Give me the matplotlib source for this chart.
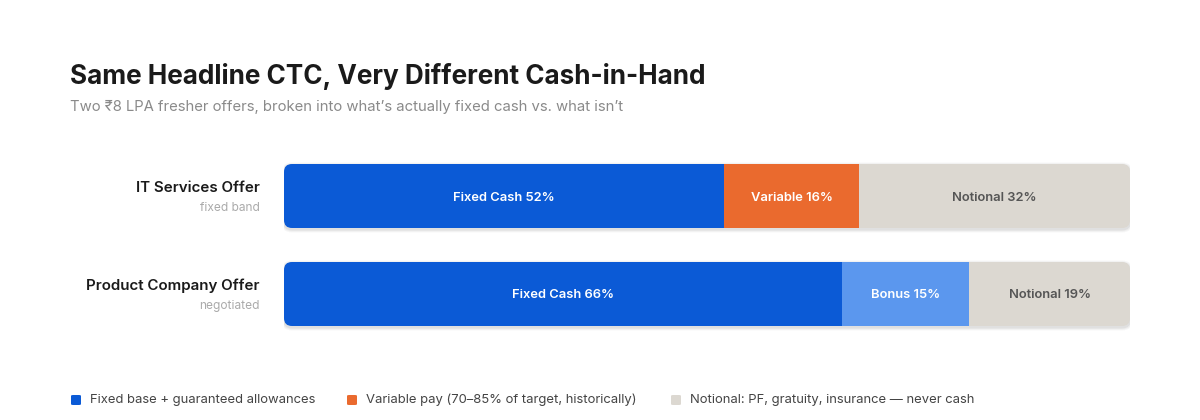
import matplotlib
matplotlib.use("Agg")
import matplotlib.pyplot as plt
from matplotlib.patches import FancyBboxPatch

plt.rcParams['font.family'] = ['Inter', 'DejaVu Sans']

# ---- data ----
offers = ["IT Services Offer", "Product Company Offer"]
offer_notes = ["fixed band", "negotiated"]
seg_names = [["Fixed Cash", "Variable", "Notional"],
             ["Fixed Cash", "Bonus", "Notional"]]
seg_values = [[52, 16, 32],
              [66, 15, 19]]
seg_colors = [["#0b5ad6", "#ea6a2e", "#dcd8d1"],
              ["#0b5ad6", "#5b97ee", "#dcd8d1"]]
seg_text_colors = [["white", "white", "#555555"],
                   ["white", "white", "#555555"]]
legend_labels = ["Fixed base + guaranteed allowances",
                 "Variable pay (70\u201385% of target, historically)",
                 "Notional: PF, gratuity, insurance \u2014 never cash"]
legend_colors = ["#0b5ad6", "#ea6a2e", "#dcd8d1"]

title = "Same Headline CTC, Very Different Cash-in-Hand"
subtitle = "Two \u20b98 LPA fresher offers, broken into what\u2019s actually fixed cash vs. what isn\u2019t"

W, H = 1200, 420
fig = plt.figure(figsize=(W / 100, H / 100), dpi=100)
fig.patch.set_facecolor("white")

def fx(x):
    return x / W

def fy(y):
    return 1 - y / H

# axes: x 0..100 -> px 284..1130 ; rows centered at 196 and 294
ax_left, ax_right = 284, 1130
ax_top, ax_bot = 150, 340
ax = fig.add_axes([fx(ax_left), fy(ax_bot), (ax_right - ax_left) / W, (ax_bot - ax_top) / H])
ax.set_xlim(0, 100)
row_px = 98.0
ax.set_ylim(1 + 46 / row_px, -46 / row_px)
ax.axis("off")

bar_h = 64 / row_px
x_per_px = 100 / (ax_right - ax_left)
y_per_px = 1 / row_px
radius_px = 8

for i, (names, vals, cols, tcols) in enumerate(zip(seg_names, seg_values, seg_colors, seg_text_colors)):
    total = sum(vals)
    # soft shadow
    for k, a in [(3, 0.03), (2, 0.04), (1, 0.05)]:
        sh = FancyBboxPatch((-k * x_per_px, i - bar_h / 2 - k * y_per_px + 1.5 * y_per_px),
                            total + 2 * k * x_per_px, bar_h + 2 * k * y_per_px,
                            boxstyle=f"round,pad=0,rounding_size={(radius_px + k) * x_per_px}",
                            mutation_aspect=y_per_px / x_per_px,
                            facecolor="black", edgecolor="none", alpha=a, zorder=1)
        ax.add_patch(sh)
    clip = FancyBboxPatch((0, i - bar_h / 2), total, bar_h,
                          boxstyle=f"round,pad=0,rounding_size={radius_px * x_per_px}",
                          mutation_aspect=y_per_px / x_per_px,
                          facecolor="none", edgecolor="none", transform=ax.transData)
    ax.add_patch(clip)
    left = 0
    for name, v, c, tc in zip(names, vals, cols, tcols):
        bars = ax.barh(i, v, left=left, height=bar_h, color=c, edgecolor="none", zorder=2)
        for b in bars:
            b.set_clip_path(clip)
        ax.text(left + v / 2, i + 1.5 * y_per_px, f"{name} {v}%", ha="center", va="center",
                color=tc, fontsize=9.3, fontweight="semibold", zorder=3)
        left += v

# row labels
for i, (lab, note) in enumerate(zip(offers, offer_notes)):
    yc = 196 + i * 98
    fig.text(fx(260), fy(yc - 8), lab, ha="right", va="center",
             fontsize=10.9, fontweight="semibold", color="#1a1a1a")
    fig.text(fx(260), fy(yc + 12), note, ha="right", va="center",
             fontsize=8.6, color="#aaaaaa")

# title / subtitle
fig.text(fx(70), fy(76), title, ha="left", va="center",
         fontsize=18.8, fontweight="bold", color="#1a1a1a")
fig.text(fx(70), fy(107), subtitle, ha="left", va="center",
         fontsize=10.7, color="#8a8a8a")

# legend
leg_x = [70, 346, 670]
for x, lab, c in zip(leg_x, legend_labels, legend_colors):
    sq = FancyBboxPatch((fx(x + 1), fy(405)), 10 / W, 10 / H,
                        boxstyle="round,pad=0,rounding_size=0.002",
                        transform=fig.transFigure, facecolor=c, edgecolor="none")
    fig.patches.append(sq)
    fig.text(fx(x + 20), fy(400), lab, ha="left", va="center",
             fontsize=9.4, color="#444444")

fig.savefig("out.png", dpi=100, facecolor="white")
